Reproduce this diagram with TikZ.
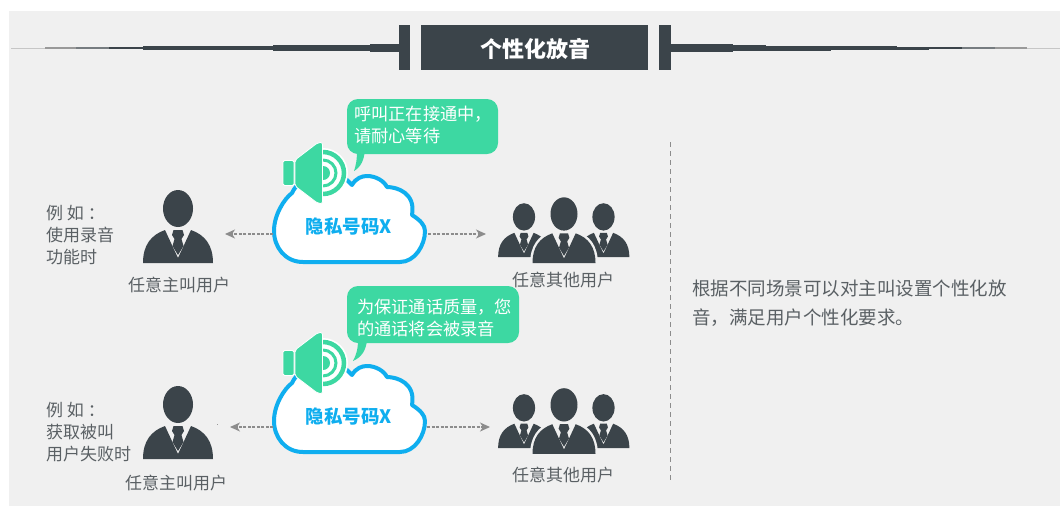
\documentclass[tikz,border=0pt]{standalone}
\usepackage{fontspec}
\setmainfont{Noto Sans CJK SC}
\usetikzlibrary{arrows.meta}
\definecolor{bgc}{HTML}{F0F0F0}
\definecolor{dk}{HTML}{3B444A}
\definecolor{grn}{HTML}{3DD8A2}
\definecolor{blu}{HTML}{0FAEEF}
\definecolor{txt}{HTML}{5A6064}
\tikzset{
 lbl/.style={text=txt,font=\fontsize{17}{22}\selectfont,align=left,inner sep=0pt,anchor=west},
 captxt/.style={text=txt,font=\fontsize{17}{20}\selectfont,inner sep=0pt},
 bub/.style={text=white,font=\fontsize{17.2}{21.5}\selectfont,align=left,inner sep=0pt,anchor=west},
 cloudtxt/.style={text=blu,font=\fontsize{18.5}{20}\selectfont\bfseries,inner sep=0pt},
 dsh/.style={draw=gray!90,dash pattern=on 3pt off 1.5pt,line width=1.2pt,-{Stealth[length=10pt,width=9pt,inset=3pt]}},
 bubbox/.style={fill=grn,rounded corners=11pt,inner sep=0pt},
 person/.pic={
  \fill[dk] (0,-18.5) ellipse (15 and 18.5);
  \fill[dk] (-35,36) .. controls (-35,18) and (-27,8) .. (-13,3) -- (0,31) -- (13,3) .. controls (27,8) and (35,18) .. (35,36) -- cycle;
  \fill[dk] (-4.5,3) -- (4.5,3) -- (6,8) -- (3.5,12) -- (5.5,19) -- (0,28) -- (-5.5,19) -- (-3.5,12) -- (-6,8) -- cycle;
 },
 group/.pic={
  \pic[scale=.74] at (-40,0) {person};
  \pic[scale=.74] at (39.5,0) {person};
  \fill[bgc] (-34,34) .. controls (-34,15) and (-26,5) .. (-12,0) -- (12,0) .. controls (26,5) and (34,15) .. (34,34) -- cycle;
  \pic[scale=.9] at (0,0) {person};
 },
 cloud/.pic={
  \draw[blu,fill=white,line width=4pt,line join=round]
   (-47,37) .. controls (-65,37) and (-76,22) .. (-76,6)
   .. controls (-76,-10) and (-66,-26) .. (-58,-32)
   .. controls (-50,-50) and (-20,-58) .. (-3,-45)
   -- (2,-40)
   .. controls (6,-47) and (12,-49) .. (17,-49)
   .. controls (26,-49) and (34,-44) .. (37,-38)
   .. controls (47,-38) and (66,-32) .. (62,-10)
   .. controls (70,-5) and (75,0) .. (75,6)
   .. controls (75,20) and (65,37) .. (50,37) -- cycle;
 },
 speaker/.pic={
  \fill[white] (5,-25) arc (-90:90:25);
  \draw[grn,line width=4.5pt] (5,-21) arc (-90:90:21);
  \draw[grn,line width=3pt] (5,-13) arc (-90:90:13);
  \fill[grn] (5,-7) arc (-90:90:7);
  \fill[grn,draw=white,line width=.8pt,rounded corners=1.5pt] (-35,-12.5) rectangle (-24,12.5);
  \fill[grn,draw=white,line width=.8pt,rounded corners=2pt] (-23,-13) -- (0,-30.5) -- (4.5,-30.5) -- (4.5,30.5) -- (0,30.5) -- (-23,13) -- cycle;
 }
}
\newcommand{\hseg}[4][dk]{\fill[#1] (#2,48-#4/2) rectangle (#3,48+#4/2);}
\begin{document}
\begin{tikzpicture}[x=1pt,y=-1pt]
\useasboundingbox (0,0) rectangle (1060,507);
\fill[white] (0,0) rectangle (1060,507);
\fill[bgc] (9,11) rectangle (1060,506);
% header lines
\hseg[gray!45]{11}{45}{1}
\hseg[gray!80]{45}{76}{1.4}
\hseg[dk!70]{76}{109}{1.6}
\hseg{109}{143}{2}
\hseg{143}{208}{3.2}
\hseg{208}{273}{4.4}
\hseg{273}{370}{5.4}
\hseg{370}{399}{7.5}
\hseg{670}{733}{8}
\hseg{733}{766}{6.5}
\hseg{766}{831}{5}
\hseg{831}{897}{4}
\hseg{897}{929}{3}
\hseg{929}{962}{2.2}
\hseg[dk!70]{962}{995}{1.6}
\hseg[gray!80]{995}{1027}{1.4}
\hseg[gray!45]{1027}{1060}{1}
\fill[dk] (399,25) rectangle (410,70);
\fill[dk] (658.5,25) rectangle (670.5,70);
\node[fill=dk,minimum width=227pt,minimum height=45pt,inner sep=0pt] (titlebox) at (534.5,47.5) {};
\node[text=white,font=\fontsize{22}{24}\selectfont\bfseries,inner sep=0pt] (title) at (535.5,49) {个性化放音};
% row 1
\pic at (178,227) {person};
\pic at (564,230.6) {group};
\node[lbl] (ex1) at (46,235) {例 如 ：\\使用录音\\功能时};
\node[captxt] (c1) at (179,285) {任意主叫用户};
\node[captxt] (c2) at (563,280) {任意其他用户};
\coordinate (cl1) at (350,225);
\pic at (cl1) {cloud};
\node[cloudtxt] (x1) at (349,227) {隐私号码X};
\pic at (318,173) {speaker};
\fill[grn] (357,150) -- (365,150) .. controls (364,160) and (361,167) .. (354,171) .. controls (356,165) and (357,160) .. (357,150) -- cycle;
\fill[bubbox] (347,99) rectangle (498,154);
\node[bub] (bt1) at (354,125) {呼叫正在接通中，\\请耐心等待};
\coordinate (a1s) at (273,234);\coordinate (a1e) at (225,234);
\draw[dsh] (a1s) -- (a1e);
\coordinate (a2s) at (428,234);\coordinate (a2e) at (486,234);
\draw[dsh] (a2s) -- (a2e);
% row 2
\pic at (178,423) {person};
\pic at (564,421.5) {group};
\node[lbl] (ex2) at (46,432) {例 如 ：\\获取被叫\\用户失败时};
\node[captxt] (c3) at (176,483) {任意主叫用户};
\node[captxt] (c4) at (563,475) {任意其他用户};
\coordinate (cl2) at (350,415);
\pic at (cl2) {cloud};
\node[cloudtxt] (x2) at (349,417) {隐私号码X};
\pic at (318,363) {speaker};
\fill[grn] (358,340) -- (367,340) .. controls (366,350) and (362,357) .. (353,361) .. controls (356,355) and (358,350) .. (358,340) -- cycle;
\fill[bubbox] (347,286) rectangle (519,343);
\node[bub] (bt2) at (357,318) {为保证通话质量，您\\的通话将会被录音};
\coordinate (a3s) at (273,427);\coordinate (a3e) at (230,427);
\draw[dsh] (a3s) -- (a3e);
\coordinate (a4s) at (427,427);\coordinate (a4e) at (490,427);
\draw[dsh] (a4s) -- (a4e);
\fill[gray!80] (216.5,423.5) rectangle (217.5,424.5);
% divider
\coordinate (d1) at (670,142);\coordinate (d2) at (670,480);
\draw[gray!90,dash pattern=on 5pt off 4pt,line width=.9pt] (d1) -- (d2);
\node[lbl,font=\fontsize{18.5}{29}\selectfont] (desc) at (692,303) {根据不同场景可以对主叫设置个性化放\\音，满足用户个性化要求。};
\end{tikzpicture}
\end{document}
